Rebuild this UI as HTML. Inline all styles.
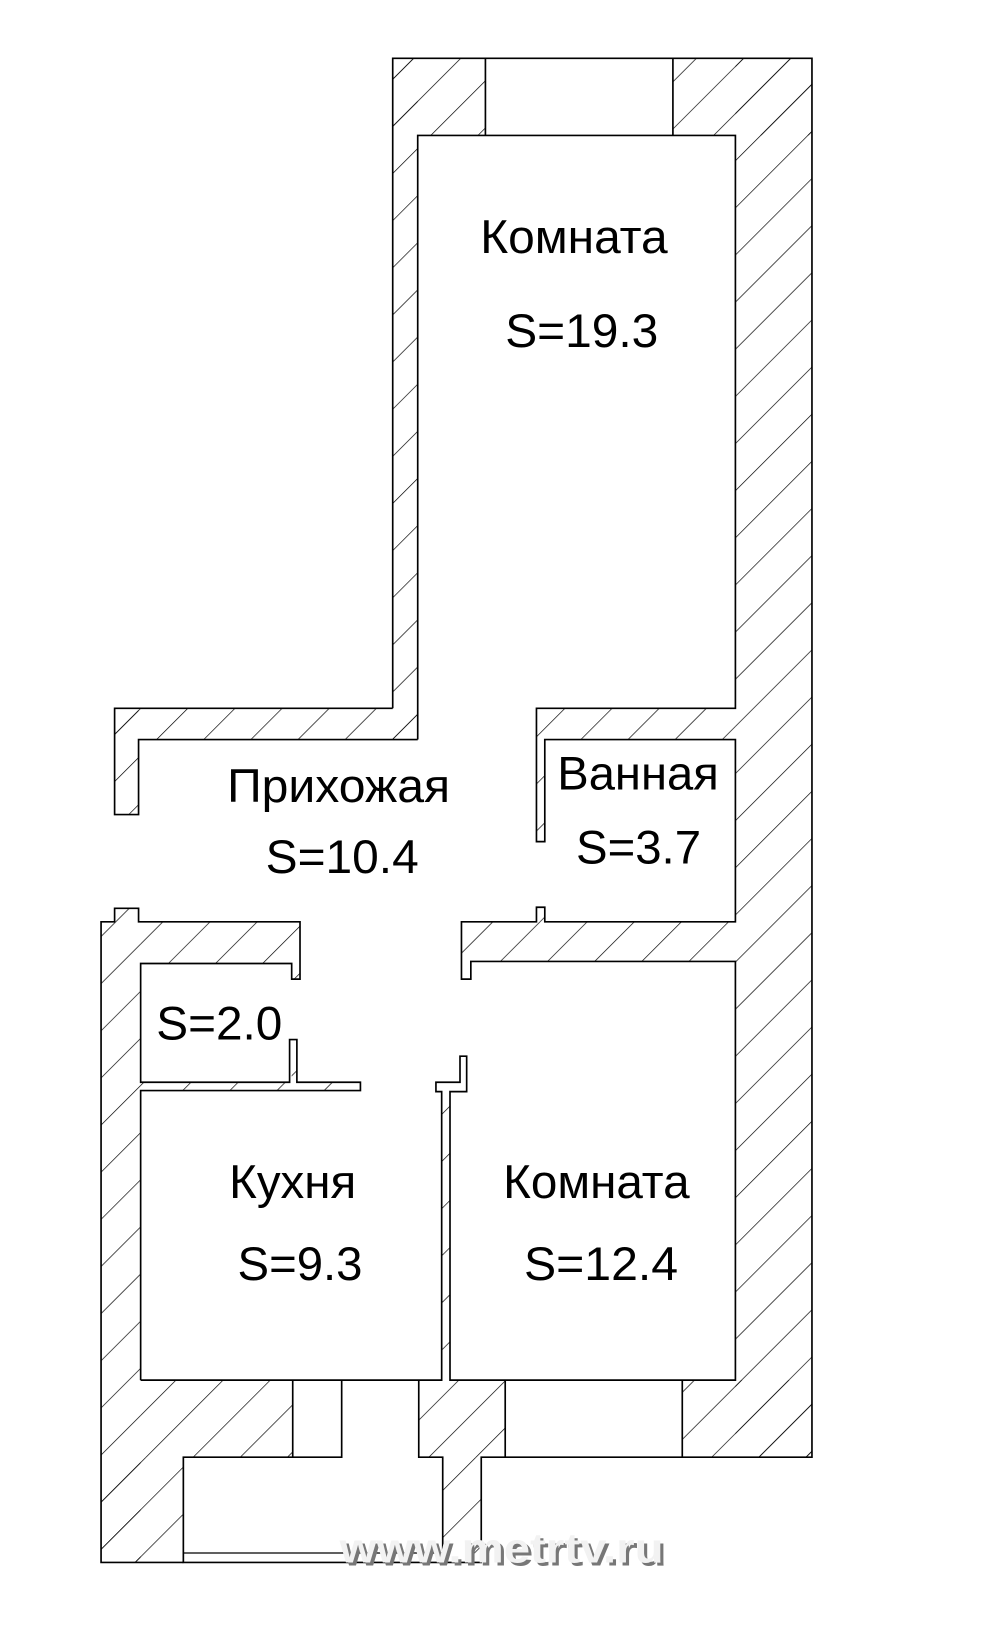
<!DOCTYPE html>
<html><head><meta charset="utf-8"><style>
html,body{margin:0;padding:0;background:#fff;}
svg{display:block;}
text{font-family:"Liberation Sans",Arial,sans-serif;fill:#000;}
</style></head><body>
<svg width="1000" height="1627" viewBox="0 0 960 1562" xmlns="http://www.w3.org/2000/svg">
<defs>
<pattern id="h" width="32" height="32" patternUnits="userSpaceOnUse" patternTransform="rotate(45)">
<line x1="0" y1="-2" x2="0" y2="35" stroke="#000" stroke-width="1.3"/>
</pattern>
</defs>
<rect width="960" height="1562" fill="#fff"/>
<g fill="url(#h)">
<rect x="377" y="56" width="402.5" height="74"/>
<rect x="377" y="56" width="24" height="654"/>
<rect x="110" y="680" width="291" height="30"/>
<rect x="110" y="680" width="23" height="102"/>
<rect x="706" y="56" width="73.5" height="1343"/>
<rect x="515" y="680" width="191" height="30"/>
<rect x="515" y="710" width="8" height="98"/>
<rect x="443" y="885" width="263" height="38"/>
<rect x="443" y="923" width="9" height="17"/>
<rect x="515" y="871" width="8" height="14"/>
<rect x="97" y="885" width="38" height="615"/>
<rect x="110" y="872" width="23" height="13"/>
<rect x="135" y="885" width="153" height="40"/>
<rect x="280" y="925" width="8" height="15"/>
<rect x="278" y="998" width="7" height="42"/>
<rect x="135" y="1039" width="211" height="8"/>
<rect x="418.5" y="1039" width="29.5" height="9"/>
<rect x="441.6" y="1014" width="6.4" height="26"/>
<rect x="424" y="1047" width="8" height="278"/>
<rect x="135" y="1325" width="146" height="74"/>
<rect x="402" y="1325" width="83" height="74"/>
<rect x="655" y="1325" width="124.5" height="74"/>
<rect x="425" y="1399" width="37" height="101"/>
<rect x="97" y="1399" width="79" height="101"/>
</g>
<g fill="#fff" stroke="none">
<rect x="466" y="56" width="180" height="74"/>
<rect x="401" y="130" width="305" height="550"/>
<rect x="523" y="710" width="183" height="175"/>
<rect x="135" y="925" width="145" height="114"/>
<rect x="135" y="1047" width="289" height="278"/>
<rect x="432" y="923" width="274" height="402"/>
<rect x="281" y="1325" width="47" height="74"/>
<rect x="485" y="1325" width="170" height="74"/>
<rect x="176" y="1399" width="249" height="101"/>
</g>
<g fill="none" stroke="#000" stroke-width="1.6">
<!-- top outer & room 1 -->
<path d="M377,680 L377,56 L779.5,56 L779.5,1399 L655,1399"/>
<path d="M466,56 L466,130 M646,56 L646,130"/>
<path d="M401,710 L401,130 L706,130 L706,680 L515,680 L515,808 L523,808 L523,710 L706,710 L706,885 L523,885 L523,871 L515,871 L515,885 L443,885 L443,940 L452,940 L452,923 L706,923 L706,1325 L432,1325 L432,1048 L448,1048 L448,1014 L441.6,1014 L441.6,1039 L418.5,1039 L418.5,1048 L424,1048 L424,1325 L135,1325"/>
<path d="M377,680 L110,680 L110,782 L133,782 L133,710 L401,710"/>
<!-- left group -->
<path d="M176,1500 L97,1500 L97,885 L110,885 L110,872 L133,872 L133,885 L288,885 L288,940 L280,940 L280,925 L135,925 L135,1039 L278,1039 L278,998 L285,998 L285,1039 L346,1039 L346,1047 L135,1047 L135,1325"/>
<!-- bottom -->
<path d="M281,1325 L281,1399 L176,1399 L176,1500 L462,1500 L462,1399 L485,1399 L485,1325 M328,1325 L328,1399 L281,1399 M402,1325 L402,1399 L425,1399 L425,1500 M655,1325 L655,1399 L485,1399"/>
<path d="M176,1491 L425,1491" stroke-width="1.2"/>
</g>
<g font-size="45">
<text x="461" y="243" textLength="180" lengthAdjust="spacingAndGlyphs">Комната</text>
<text x="485" y="333" textLength="147" lengthAdjust="spacingAndGlyphs">S=19.3</text>
<text x="218" y="770" textLength="214" lengthAdjust="spacingAndGlyphs">Прихожая</text>
<text x="255" y="838" textLength="147" lengthAdjust="spacingAndGlyphs">S=10.4</text>
<text x="535" y="758" textLength="155" lengthAdjust="spacingAndGlyphs">Ванная</text>
<text x="553" y="829" textLength="120" lengthAdjust="spacingAndGlyphs">S=3.7</text>
<text x="150" y="998" textLength="121" lengthAdjust="spacingAndGlyphs">S=2.0</text>
<text x="220" y="1150" textLength="122" lengthAdjust="spacingAndGlyphs">Кухня</text>
<text x="228" y="1229" textLength="120" lengthAdjust="spacingAndGlyphs">S=9.3</text>
<text x="483" y="1150" textLength="179" lengthAdjust="spacingAndGlyphs">Комната</text>
<text x="503" y="1229" textLength="148" lengthAdjust="spacingAndGlyphs">S=12.4</text>
</g>
<text x="329" y="1503" font-size="40" font-weight="bold" textLength="311" lengthAdjust="spacingAndGlyphs" style="fill:#777">www.metrtv.ru</text>
<text x="326" y="1500" font-size="40" font-weight="bold" textLength="311" lengthAdjust="spacingAndGlyphs" style="fill:#f2f2f2">www.metrtv.ru</text>
</svg>
</body></html>
